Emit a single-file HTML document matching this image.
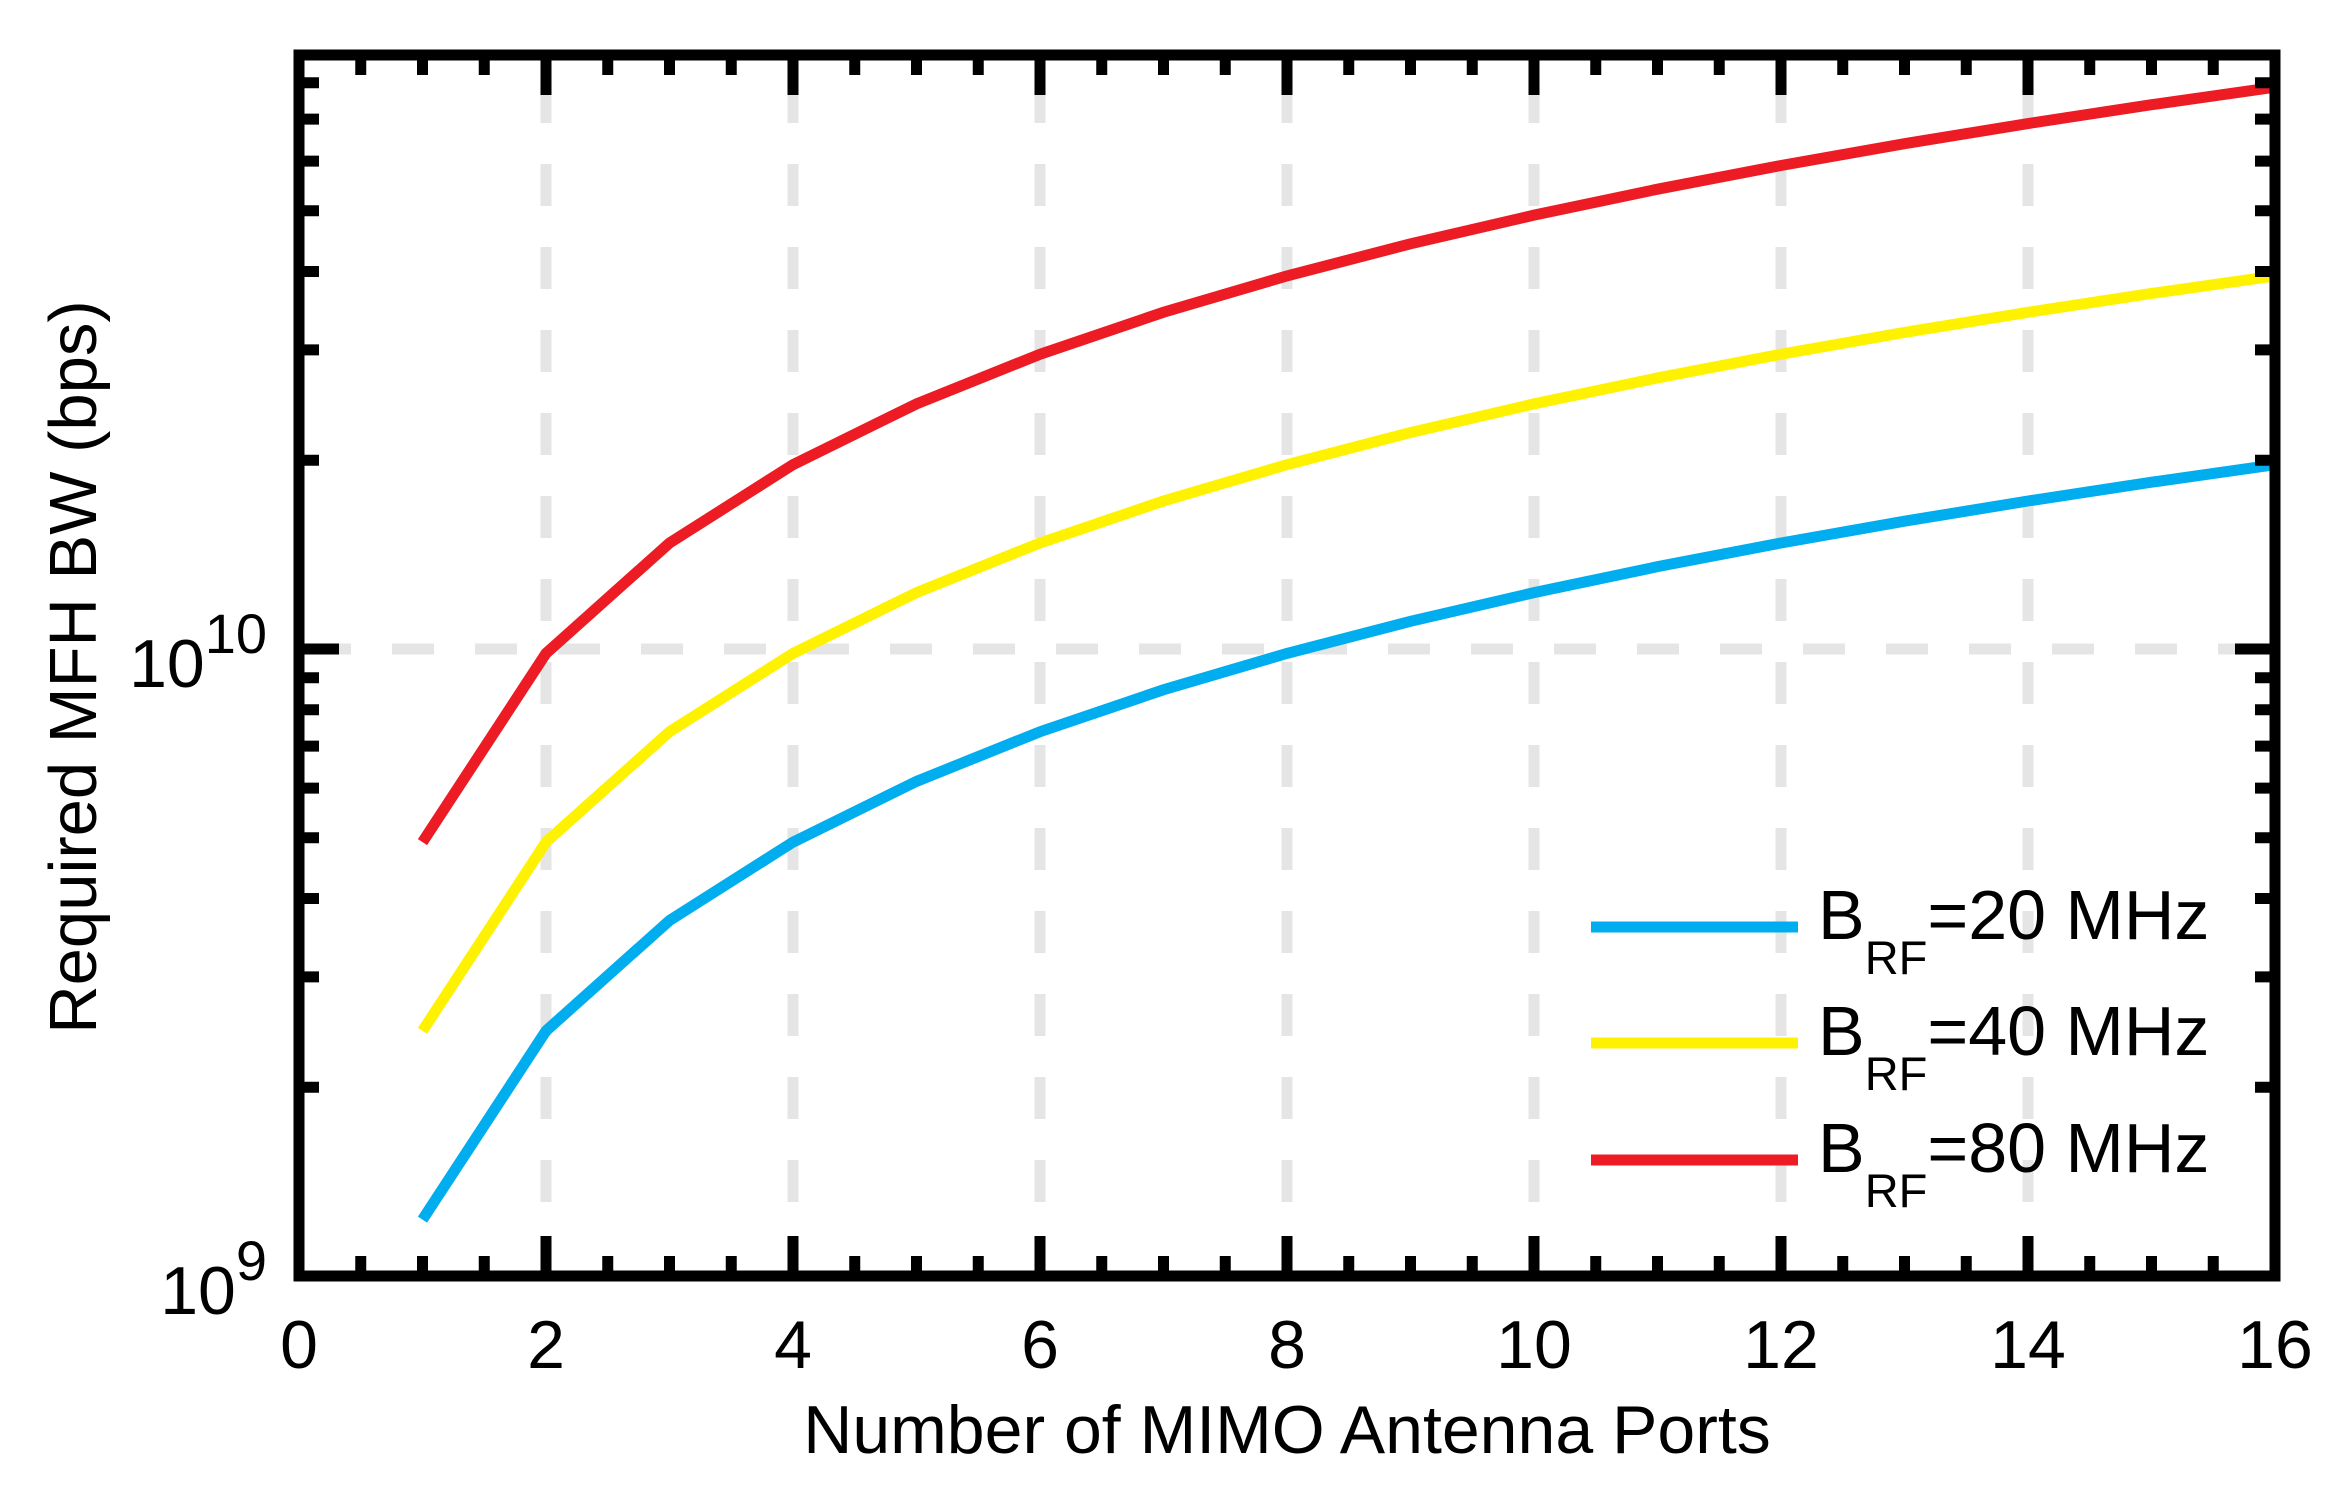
<!DOCTYPE html>
<html><head><meta charset="utf-8"><style>
html,body{margin:0;padding:0;background:#fff;}
svg{display:block;font-family:"Liberation Sans",Arial,sans-serif;}
</style></head><body>
<svg id="chart" width="2335" height="1495" viewBox="0 0 2335 1495" xmlns="http://www.w3.org/2000/svg">
<g id="grid"></g>
<g id="series"></g>
<g id="ticks"></g>
<rect x="299" y="55" width="1976" height="1221" fill="none" stroke="#000" stroke-width="11"/>
<g id="labels" font-size="68" fill="#000"></g>
<text x="1287" y="1453" font-size="68" text-anchor="middle">Number of MIMO Antenna Ports</text>
<text x="0" y="0" font-size="67" text-anchor="middle" transform="translate(96,667) rotate(-90)">Required MFH BW (bps)</text>
<g id="legend"></g>
</svg>
<script>
const ports = [1,2,3,4,5,6,7,8,9,10,11,12,13,14,15,16];
const bw20 = [1.23e9,2.46e9,3.69e9,4.92e9,6.15e9,7.38e9,8.61e9,9.84e9,1.107e10,1.23e10,1.353e10,1.476e10,1.599e10,1.722e10,1.845e10,1.968e10];
const bw40 = [2.46e9,4.92e9,7.38e9,9.84e9,1.23e10,1.476e10,1.722e10,1.968e10,2.214e10,2.46e10,2.706e10,2.952e10,3.198e10,3.444e10,3.69e10,3.936e10];
const bw80 = [4.92e9,9.84e9,1.476e10,1.968e10,2.46e10,2.952e10,3.444e10,3.936e10,4.428e10,4.92e10,5.412e10,5.904e10,6.396e10,6.888e10,7.38e10,7.872e10];
const seriesNames = ["B_RF=20 MHz","B_RF=40 MHz","B_RF=80 MHz"];
const seriesColors = ["#00aeef","#fff200","#ed1c24"];
const xTicks = [0,2,4,6,8,10,12,14,16];
const yDecades = [9,10];

const NS="http://www.w3.org/2000/svg";
const X0=299,X1=2275,Y0=1276,DEC=627,XMAX=16;
function xs(v){return X0+(X1-X0)*v/XMAX;}
function ys(v){return Y0-(Math.log10(v)-9)*DEC;}
function mk(tag,attrs,parent){const e=document.createElementNS(NS,tag);for(const k in attrs)e.setAttribute(k,attrs[k]);if(parent)parent.appendChild(e);return e;}
const grid=document.getElementById('grid'),ticks=document.getElementById('ticks'),labels=document.getElementById('labels'),series=document.getElementById('series'),legend=document.getElementById('legend');

xTicks.forEach(t=>{ if(t>0&&t<XMAX){
  const l=mk('line',{x1:xs(t),x2:xs(t),y1:61,y2:1270,stroke:'#e5e5e5','stroke-width':11,'stroke-dasharray':'42 41','stroke-dashoffset':-20},grid);
  
  
}});
const hg=mk('line',{x1:305,x2:2269,y1:ys(1e10),y2:ys(1e10),stroke:'#e5e5e5','stroke-width':11,'stroke-dasharray':'42 41','stroke-dashoffset':-4},grid);



for(let v=0.5;v<XMAX;v+=0.5){
  const major = Math.abs(v/2-Math.round(v/2))<1e-9;
  const len = major?40:20;
  const a=mk('line',{x1:xs(v),x2:xs(v),y1:Y0,y2:Y0-len,stroke:'#000','stroke-width':11},ticks);
  
  
  const b=mk('line',{x1:xs(v),x2:xs(v),y1:55,y2:55+len,stroke:'#000','stroke-width':11},ticks);
  
  
}
for(let d=9;d<=10;d++){
  for(let m=1;m<=9;m++){
    const v=m*Math.pow(10,d); const y=ys(v);
    if(y<55||y>Y0) continue;
    const len=(m===1)?40:20;
    const a=mk('line',{x1:X0,x2:X0+len,y1:y,y2:y,stroke:'#000','stroke-width':11},ticks);
    
    
    const b=mk('line',{x1:X1,x2:X1-len,y1:y,y2:y,stroke:'#000','stroke-width':11},ticks);
    
    
  }
}
xTicks.forEach(t=>{
  const e=mk('text',{x:xs(t),y:1368,'text-anchor':'middle'},labels);
  e.textContent=String(t);
  
  
});
yDecades.forEach(d=>{
  const y=ys(Math.pow(10,d));
  const e=mk('text',{x:267,y:y+38,'text-anchor':'end'},labels);
  
  
  const a=mk('tspan',{},e); a.textContent='10';
  const s=mk('tspan',{'font-size':56,dy:-34},e); s.textContent=String(d);
});
[bw20,bw40,bw80].forEach((arr,i)=>{
  const pts=ports.map((p,j)=>xs(p)+','+ys(arr[j])).join(' ');
  const pl=mk('polyline',{points:pts,fill:'none',stroke:seriesColors[i],'stroke-width':11,'stroke-linejoin':'miter'},series);
  
  
});
const legY=[927,1043,1160];
seriesNames.forEach((n,i)=>{
  const g=mk('g',{},legend);
  
  
  mk('line',{x1:1591,x2:1798,y1:legY[i],y2:legY[i],stroke:seriesColors[i],'stroke-width':11},g);
  const t=mk('text',{x:1818,y:legY[i]+12,'font-size':70},g);
  const parts=n.split('_'); const rest=parts[1].split('=');
  const a=mk('tspan',{},t); a.textContent=parts[0];
  const b=mk('tspan',{'font-size':47,dy:35},t); b.textContent=rest[0];
  const c=mk('tspan',{dy:-35},t); c.textContent='='+rest[1];
});
</script>
</body></html>
